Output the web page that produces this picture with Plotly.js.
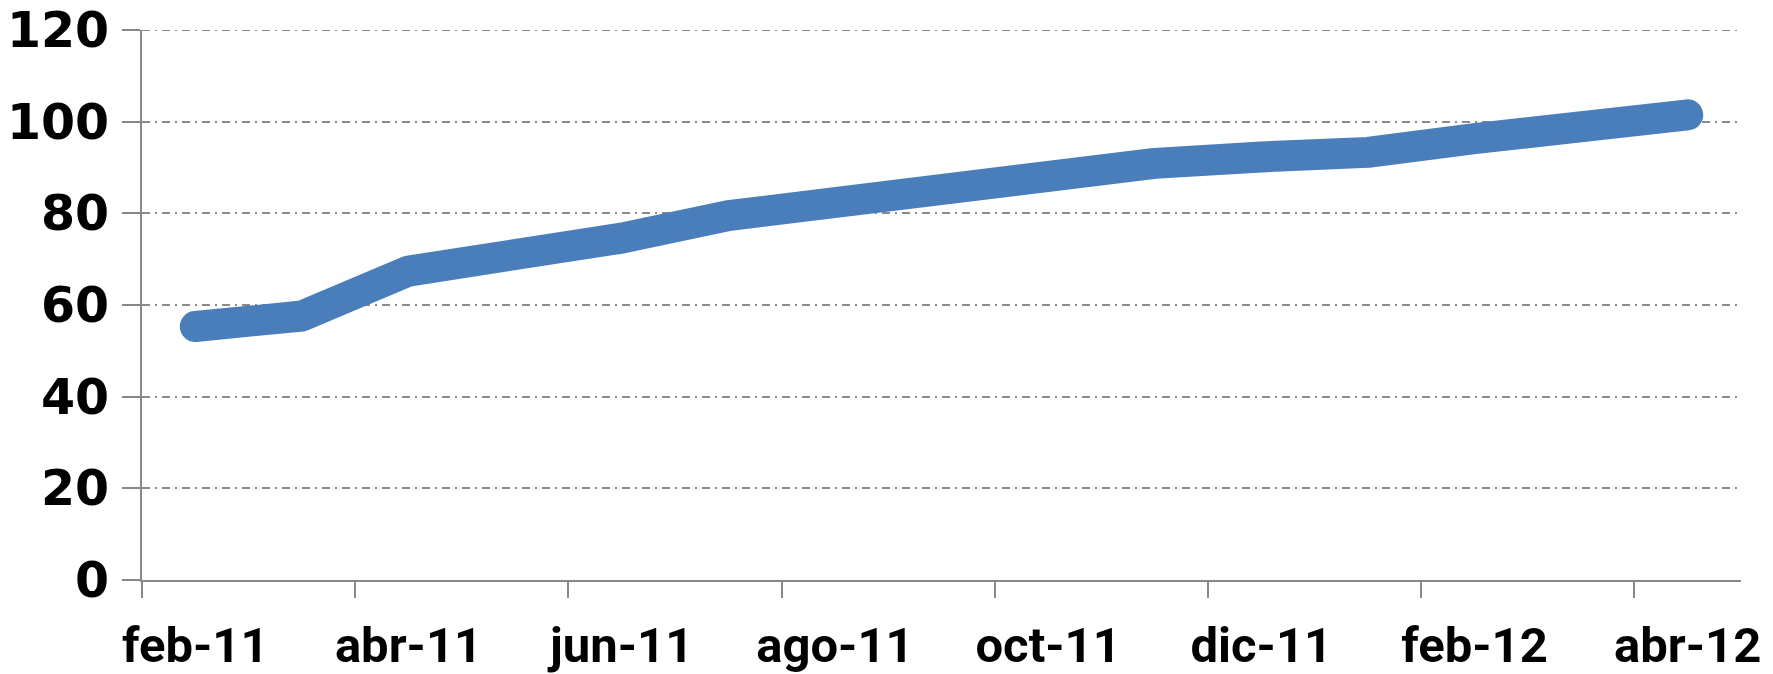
<!DOCTYPE html>
<html>
<head>
<meta charset="utf-8">
<script src="https://cdn.plot.ly/plotly-3.0.1.min.js"></script>
<style>
  html, body { margin: 0; padding: 0; background: #fff; }
  #chart { width: 1773px; height: 674px; }
  .js-line { stroke-linecap: round; stroke-linejoin: round; }
</style>
</head>
<body>
<div id="chart"></div>
<script>
const months = ["feb-11","mar-11","abr-11","may-11","jun-11","jul-11","ago-11","sep-11","oct-11","nov-11","dic-11","ene-12","feb-12","mar-12","abr-12"];
const values = [55.3, 57.6, 67.4, 70.6, 74.6, 79.5, 82.5, 85.2, 87.7, 90.9, 92.3, 93.3, 96.3, 99.5, 101.5];
const yTicks = [0, 20, 40, 60, 80, 100, 120];

const gridColor = "#8a8a8a";
const gridDash = "8px,5px,2px,5px";

const trace = {
  x: months,
  y: values,
  type: "scatter",
  mode: "lines",
  line: { color: "#4a7ebb", width: 31 },
  hoverinfo: "skip"
};

const layout = {
  width: 1773,
  height: 674,
  margin: { l: 142, r: 32, t: 29.5, b: 93.5, pad: 0 },
  paper_bgcolor: "#ffffff",
  plot_bgcolor: "#ffffff",
  showlegend: false,
  xaxis: {
    type: "category",
    range: [-0.5, 14.5],
    dtick: 2,
    tickson: "boundaries",
    ticks: "outside",
    ticklen: 16,
    tickwidth: 2,
    tickcolor: "#888888",
    showline: true,
    linecolor: "#888888",
    linewidth: 2,
    showgrid: false,
    zeroline: false,
    tickangle: 0,
    ticklabelstandoff: 21,
    tickfont: { family: "Roboto, sans-serif", size: 49, color: "#000000", weight: "bold" }
  },
  yaxis: {
    range: [0, 120],
    tickvals: yTicks,
    ticktext: yTicks.map(String),
    ticks: "outside",
    ticklen: 18,
    tickwidth: 2,
    tickcolor: "#888888",
    showline: true,
    linecolor: "#888888",
    linewidth: 2,
    showgrid: true,
    gridcolor: gridColor,
    gridwidth: 2,
    griddash: gridDash,
    zeroline: false,
    ticklabelstandoff: 3,
    tickfont: { family: "DejaVu Sans, Verdana, sans-serif", size: 49, color: "#000000", weight: "bold" }
  },
  shapes: [{
    type: "line", xref: "paper", yref: "y",
    x0: 0, x1: 1, y0: yTicks[yTicks.length - 1], y1: yTicks[yTicks.length - 1],
    line: { color: gridColor, width: 2, dash: gridDash },
    layer: "below"
  }]
};

Plotly.newPlot("chart", [trace], layout, { displayModeBar: false, staticPlot: true });
</script>
</body>
</html>
